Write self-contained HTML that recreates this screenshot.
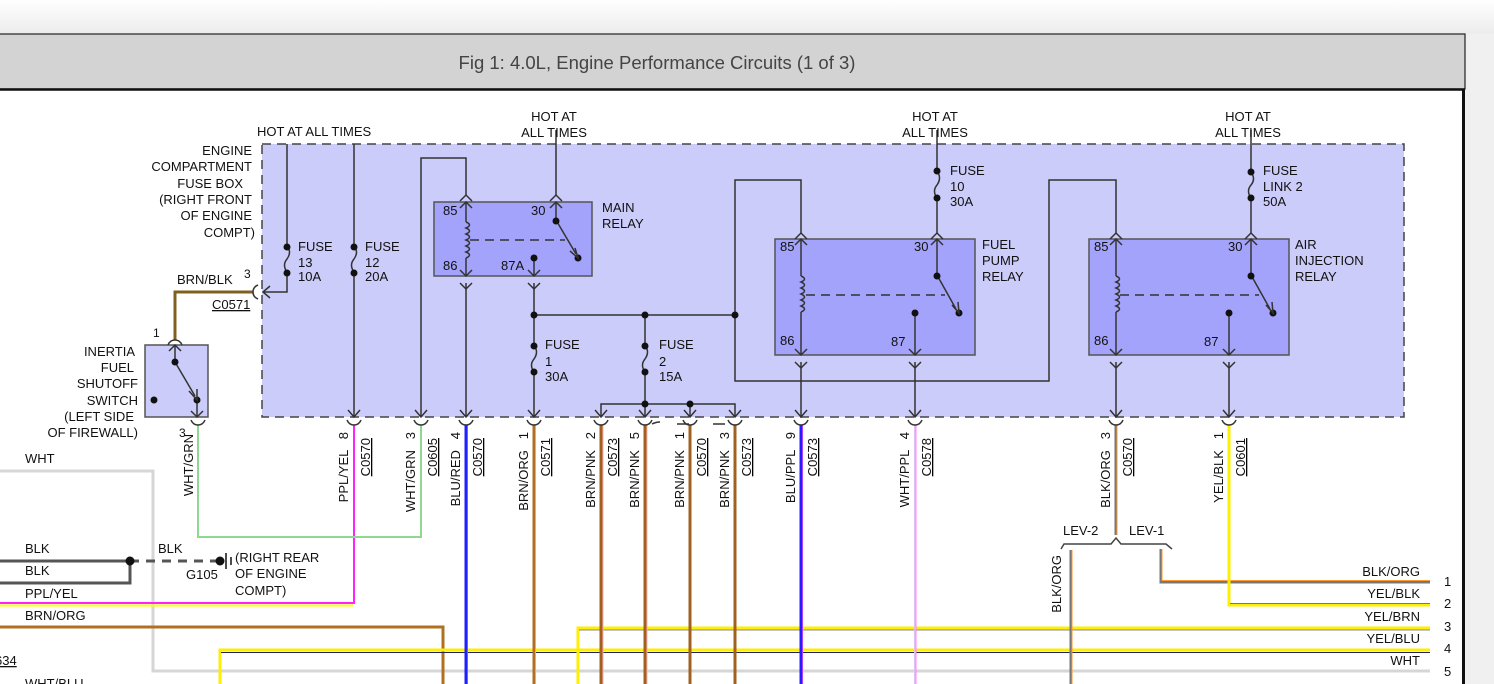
<!DOCTYPE html>
<html><head><meta charset="utf-8"><style>
html,body{margin:0;padding:0;width:1494px;height:684px;overflow:hidden;background:#f2f2f2}
svg{display:block}
text{font-family:"Liberation Sans",sans-serif;font-size:13px;fill:#111;white-space:pre}
</style></head><body>
<svg width="1494" height="684" viewBox="0 0 1494 684" xmlns="http://www.w3.org/2000/svg">
<defs>
<linearGradient id="tg" x1="0" y1="0" x2="0" y2="1"><stop offset="0" stop-color="#ffffff"/><stop offset="1" stop-color="#ececec"/></linearGradient>
</defs>
<rect x="0" y="0" width="1494" height="34" fill="url(#tg)"/>
<rect x="1466" y="34" width="28" height="650" fill="#f0f0f0"/>
<rect x="-2" y="34" width="1467" height="55" fill="#d3d3d3" stroke="#222" stroke-width="1.2"/>
<line x1="0" y1="89.5" x2="1465" y2="89.5" stroke="#111" stroke-width="2.5"/>
<text x="657" y="69" text-anchor="middle" style="font-size:18.5px;fill:#444">Fig 1: 4.0L, Engine Performance Circuits (1 of 3)</text>
<rect x="0" y="91" width="1462" height="593" fill="#fff"/>
<line x1="1463.5" y1="89" x2="1463.5" y2="684" stroke="#111" stroke-width="3"/>

<rect x="262" y="144" width="1142" height="273" fill="#ccccfa" stroke="#444" stroke-width="1.5" stroke-dasharray="9,6"/>
<rect x="434" y="202" width="158" height="74" fill="#a3a3fc" stroke="#555" stroke-width="1.5"/>
<rect x="775" y="239" width="200" height="116" fill="#a3a3fc" stroke="#555" stroke-width="1.5"/>
<rect x="1089" y="239" width="200" height="116" fill="#a3a3fc" stroke="#555" stroke-width="1.5"/>
<rect x="145" y="345" width="63" height="72" fill="#ccccfa" stroke="#555" stroke-width="1.5"/>

<g fill="none">
<polyline points="0,471 153,471 153,671 1430,671" stroke="#d6d6d6" stroke-width="3"/>
<polyline points="0,561 130,561" stroke="#555" stroke-width="3"/>
<polyline points="0,583 130,583 130,561" stroke="#555" stroke-width="3"/>
<line x1="130" y1="561" x2="220" y2="561" stroke="#555" stroke-width="3" stroke-dasharray="9,7"/>
<polyline points="0,603 354,603 354,425" stroke="#ff22ff" stroke-width="2"/>
<line x1="0" y1="605.5" x2="353" y2="605.5" stroke="#ffff00" stroke-width="2"/>
<polyline points="0,627 443,627 443,684" stroke="#b07020" stroke-width="3"/>
<polyline points="198,425 198,537 421,537 421,425" stroke="#90d890" stroke-width="2"/>
<polyline points="220,684 220,650 1430,650" stroke="#ffee00" stroke-width="3"/>
<line x1="221" y1="652.5" x2="1430" y2="652.5" stroke="#222266" stroke-width="1"/>
<polyline points="578,684 578,628 1430,628" stroke="#ffee00" stroke-width="3"/>
<line x1="579" y1="630" x2="1430" y2="630" stroke="#888" stroke-width="1"/>
<line x1="466" y1="425" x2="466" y2="684" stroke="#2020ff" stroke-width="3"/>
<line x1="467.5" y1="425" x2="467.5" y2="684" stroke="#ff4040" stroke-width="1"/>
<line x1="534" y1="425" x2="534" y2="684" stroke="#b07020" stroke-width="3"/>
<line x1="535.5" y1="425" x2="535.5" y2="684" stroke="#ffaa40" stroke-width="1"/>
<g stroke="#a06020" stroke-width="3"><line x1="601" y1="425" x2="601" y2="684"/><line x1="645" y1="425" x2="645" y2="684"/><line x1="690" y1="425" x2="690" y2="684"/><line x1="735" y1="425" x2="735" y2="684"/></g>
<g stroke="#ffb0b0" stroke-width="1"><line x1="603" y1="425" x2="603" y2="684"/><line x1="647" y1="425" x2="647" y2="684"/></g>
<line x1="801" y1="425" x2="801" y2="684" stroke="#2020ff" stroke-width="3"/>
<line x1="802.5" y1="425" x2="802.5" y2="684" stroke="#b040ff" stroke-width="1"/>
<line x1="915" y1="425" x2="915" y2="684" stroke="#e0c0f0" stroke-width="2"/>
<line x1="916" y1="425" x2="916" y2="684" stroke="#ff80ff" stroke-width="1"/>
<line x1="1116" y1="425" x2="1116" y2="535" stroke="#777" stroke-width="3"/>
<line x1="1117" y1="425" x2="1117" y2="535" stroke="#ff9a30" stroke-width="1"/>
<line x1="1071" y1="550" x2="1071" y2="684" stroke="#777" stroke-width="3"/>
<line x1="1072" y1="550" x2="1072" y2="684" stroke="#ff9a30" stroke-width="1"/>
<polyline points="1161,549 1161,582 1430,582" stroke="#777" stroke-width="3"/>
<polyline points="1162,549 1162,580.5 1430,580.5" stroke="#ff9a30" stroke-width="1"/>
<polyline points="1229,425 1229,605 1430,605" stroke="#ffee00" stroke-width="3"/>
<line x1="1230" y1="603.5" x2="1430" y2="603.5" stroke="#777" stroke-width="1"/>
<polyline points="175,340 175,292 253,292" stroke="#806020" stroke-width="3"/>
<polyline points="1061,549 1064,544 1111,544 1116,538 1121,544 1166,544 1172,549" stroke="#444" stroke-width="1.5"/>
</g>
<circle cx="130" cy="561" r="4.5" fill="#111"/><circle cx="220" cy="561" r="4.5" fill="#111"/>
<line x1="226" y1="553" x2="226" y2="569" stroke="#111" stroke-width="1.5"/>
<line x1="231" y1="557" x2="231" y2="565" stroke="#111" stroke-width="1.5"/>

<g fill="none" stroke="#333" stroke-width="1.5">
<polyline points="287,144 287,292 264,292"/><polyline points="270,286 263,292 270,298"/>
<line x1="354" y1="144" x2="354" y2="417"/>
<polyline points="421,417 421,158 466,158 466,195"/>
<line x1="466" y1="202" x2="466" y2="276"/><line x1="466" y1="283" x2="466" y2="417"/>
<line x1="556" y1="130" x2="556" y2="195"/><line x1="556" y1="202" x2="556" y2="220"/>
<line x1="556" y1="220" x2="576" y2="254"/>
<line x1="534" y1="258" x2="534" y2="276"/><line x1="534" y1="283" x2="534" y2="417"/>
<line x1="534" y1="315" x2="735" y2="315"/>
<line x1="645" y1="315" x2="645" y2="404"/>
<polyline points="601,417 601,404 735,404 735,417"/>
<line x1="645" y1="404" x2="645" y2="417"/><line x1="690" y1="404" x2="690" y2="417"/>
<polyline points="801,233 801,180 735,180 735,381 1049,381 1049,180 1116,180 1116,233"/>
<line x1="801" y1="239" x2="801" y2="355"/><line x1="801" y1="362" x2="801" y2="417"/>
<line x1="937" y1="130" x2="937" y2="233"/><line x1="937" y1="239" x2="937" y2="275"/>
<line x1="937" y1="275" x2="956" y2="309"/>
<line x1="915" y1="313" x2="915" y2="355"/><line x1="915" y1="362" x2="915" y2="417"/>
<line x1="1116" y1="239" x2="1116" y2="355"/><line x1="1116" y1="362" x2="1116" y2="417"/>
<line x1="1251" y1="130" x2="1251" y2="233"/><line x1="1251" y1="239" x2="1251" y2="275"/>
<line x1="1251" y1="275" x2="1270" y2="309"/>
<line x1="1229" y1="313" x2="1229" y2="355"/><line x1="1229" y1="362" x2="1229" y2="417"/>
<line x1="175" y1="345" x2="175" y2="362"/><line x1="175" y1="362" x2="195" y2="396"/>
<line x1="197" y1="400" x2="197" y2="417"/>
</g>
<g fill="none" stroke="#333" stroke-width="1.5">
<rect x="282" y="248" width="10" height="22" fill="#ccccfa" stroke="none"/><path d="M287,246 q5,6 0,13 q-5,6 0,13"/>
<rect x="349" y="248" width="10" height="22" fill="#ccccfa" stroke="none"/><path d="M354,246 q5,6 0,13 q-5,6 0,13"/>
<rect x="529" y="347" width="10" height="23" fill="#ccccfa" stroke="none"/><path d="M534,345 q5,7 0,14 q-5,6 0,13"/>
<rect x="640" y="347" width="10" height="23" fill="#ccccfa" stroke="none"/><path d="M645,345 q5,7 0,14 q-5,6 0,13"/>
<rect x="932" y="173" width="10" height="23" fill="#ccccfa" stroke="none"/><path d="M937,171 q5,7 0,14 q-5,6 0,13"/>
<rect x="1246" y="174" width="10" height="22" fill="#ccccfa" stroke="none"/><path d="M1251,172 q5,7 0,13 q-5,6 0,13"/>
<rect x="463" y="222" width="8" height="36" fill="#a3a3fc" stroke="none"/><path d="M466,222 q7,3 0,6 q7,3 0,6 q7,3 0,6 q7,3 0,6 q7,3 0,6 q7,3 0,6"/>
<rect x="798" y="276" width="8" height="36" fill="#a3a3fc" stroke="none"/><path d="M801,276 q7,3 0,6 q7,3 0,6 q7,3 0,6 q7,3 0,6 q7,3 0,6 q7,3 0,6"/>
<rect x="1113" y="276" width="8" height="36" fill="#a3a3fc" stroke="none"/><path d="M1116,276 q7,3 0,6 q7,3 0,6 q7,3 0,6 q7,3 0,6 q7,3 0,6 q7,3 0,6"/>
</g>
<g stroke="#333" stroke-width="1.5" stroke-dasharray="9,6">
<line x1="470" y1="240" x2="565" y2="240"/><line x1="806" y1="295" x2="945" y2="295"/><line x1="1120" y1="295" x2="1259" y2="295"/>
</g>
<g fill="#111">
<circle cx="287" cy="247" r="3.5"/><circle cx="287" cy="273" r="3.5"/>
<circle cx="354" cy="247" r="3.5"/><circle cx="354" cy="273" r="3.5"/>
<circle cx="556" cy="221" r="3.5"/><circle cx="578" cy="258" r="3.5"/><circle cx="534" cy="258" r="3.5"/>
<circle cx="534" cy="315" r="3.5"/><circle cx="645" cy="315" r="3.5"/><circle cx="735" cy="315" r="3.5"/>
<circle cx="534" cy="346" r="3.5"/><circle cx="534" cy="372" r="3.5"/>
<circle cx="645" cy="346" r="3.5"/><circle cx="645" cy="372" r="3.5"/>
<circle cx="645" cy="404" r="3.5"/><circle cx="690" cy="404" r="3.5"/>
<circle cx="937" cy="171" r="3.5"/><circle cx="937" cy="198" r="3.5"/>
<circle cx="937" cy="276" r="3.5"/><circle cx="959" cy="313" r="3.5"/><circle cx="915" cy="313" r="3.5"/>
<circle cx="1251" cy="172" r="3.5"/><circle cx="1251" cy="198" r="3.5"/>
<circle cx="1251" cy="276" r="3.5"/><circle cx="1273" cy="313" r="3.5"/><circle cx="1229" cy="313" r="3.5"/>
<circle cx="175" cy="362" r="3.5"/><circle cx="197" cy="400" r="3.5"/><circle cx="154" cy="400" r="3.5"/>
</g>
<g fill="none" stroke="#333" stroke-width="1.5">
<path d="M348,410 354,417 360,410 M415,410 421,417 427,410 M460,410 466,417 472,410 M528,410 534,417 540,410 M595,410 601,417 607,410 M639,410 645,417 651,410 M684,410 690,417 696,410 M729,410 735,417 741,410 M795,410 801,417 807,410 M909,410 915,417 921,410 M1110,410 1116,417 1122,410 M1223,410 1229,417 1235,410"/>
<path d="M460,270 466,276 472,270 M528,270 534,276 540,270 M795,349 801,355 807,349 M909,349 915,355 921,349 M1110,349 1116,355 1122,349 M1223,349 1229,355 1235,349 M191,411 197,417 203,411 M570,251 578,258 575,248"/>
<path d="M952,305 959,313 958,302 M1266,305 1273,313 1272,302 M189,391 197,400 197,389"/>
<path d="M460,208 466,202 472,208 M550,208 556,202 562,208 M795,245 801,239 807,245 M931,245 937,239 943,245 M1110,245 1116,239 1122,245 M1245,245 1251,239 1257,245 M169,351 175,345 181,351"/>
<path d="M460,201 466,195 472,201 M550,201 556,195 562,201 M795,239 801,233 807,239 M931,239 937,233 943,239 M1110,239 1116,233 1122,239 M1245,239 1251,233 1257,239"/>
<path d="M460,283 466,289 472,283 M528,283 534,289 540,283 M795,362 801,368 807,362 M909,362 915,368 921,362 M1110,362 1116,368 1122,362 M1223,362 1229,368 1235,362"/>
<path d="M347,420 q2,5 7,5 q5,0 7,-5 M414,420 q2,5 7,5 q5,0 7,-5 M459,420 q2,5 7,5 q5,0 7,-5 M527,420 q2,5 7,5 q5,0 7,-5 M594,420 q2,5 7,5 q5,0 7,-5 M638,420 q2,5 7,5 q5,0 7,-5 M683,420 q2,5 7,5 q5,0 7,-5 M728,420 q2,5 7,5 q5,0 7,-5 M794,420 q2,5 7,5 q5,0 7,-5 M908,420 q2,5 7,5 q5,0 7,-5 M1109,420 q2,5 7,5 q5,0 7,-5 M1222,420 q2,5 7,5 q5,0 7,-5 M191,420 q2,5 7,5 q5,0 7,-5"/>
<path d="M168,345 q2,-5 7,-5 q5,0 7,5 M258,285 q-5,2 -5,7 q0,5 5,7"/>
<path d="M652,424 q4,-2 8,-2 M677,424 h12 M713,424 h12"/>
</g>

<text x="257" y="136">HOT AT ALL TIMES</text>
<g text-anchor="middle"><text x="554" y="121">HOT AT</text><text x="554" y="137">ALL TIMES</text>
<text x="935" y="121">HOT AT</text><text x="935" y="137">ALL TIMES</text>
<text x="1248" y="121">HOT AT</text><text x="1248" y="137">ALL TIMES</text></g>
<g text-anchor="end"><text x="252" y="155">ENGINE</text><text x="252" y="171">COMPARTMENT</text><text x="243" y="188">FUSE BOX</text><text x="252" y="204">(RIGHT FRONT</text><text x="252" y="220">OF ENGINE</text><text x="255" y="237">COMPT)</text>
<text x="135" y="356">INERTIA</text><text x="134" y="372">FUEL</text><text x="138" y="388">SHUTOFF</text><text x="138" y="405">SWITCH</text><text x="134" y="421">(LEFT SIDE</text><text x="138" y="437">OF FIREWALL)</text></g>
<text x="177" y="284">BRN/BLK</text><text x="244" y="278" style="font-size:12px">3</text>
<text x="212" y="309" text-decoration="underline">C0571</text>
<text x="153" y="337" style="font-size:12px">1</text><text x="179" y="437" style="font-size:12px">3</text>
<text x="298" y="251">FUSE</text><text x="298" y="267">13</text><text x="298" y="281">10A</text>
<text x="365" y="251">FUSE</text><text x="365" y="267">12</text><text x="365" y="281">20A</text>
<text x="545" y="349">FUSE</text><text x="545" y="366">1</text><text x="545" y="381">30A</text>
<text x="659" y="349">FUSE</text><text x="659" y="366">2</text><text x="659" y="381">15A</text>
<text x="950" y="175">FUSE</text><text x="950" y="191">10</text><text x="950" y="206">30A</text>
<text x="1263" y="175">FUSE</text><text x="1263" y="191">LINK 2</text><text x="1263" y="206">50A</text>
<text x="602" y="212">MAIN</text><text x="602" y="228">RELAY</text>
<text x="982" y="249">FUEL</text><text x="982" y="265">PUMP</text><text x="982" y="281">RELAY</text>
<text x="1295" y="249">AIR</text><text x="1295" y="265">INJECTION</text><text x="1295" y="281">RELAY</text>
<g style="font-size:12px"><text x="443" y="215">85</text><text x="531" y="215">30</text><text x="443" y="270">86</text><text x="501" y="270">87A</text>
<text x="780" y="251">85</text><text x="914" y="251">30</text><text x="780" y="345">86</text><text x="891" y="346">87</text>
<text x="1094" y="251">85</text><text x="1228" y="251">30</text><text x="1094" y="345">86</text><text x="1204" y="346">87</text></g>
<g text-anchor="end">
<text transform="translate(193,434) rotate(-90)">WHT/GRN</text>
<text transform="translate(348,432) rotate(-90)">PPL/YEL   8</text>
<text transform="translate(415,432) rotate(-90)">WHT/GRN   3</text>
<text transform="translate(460,432) rotate(-90)">BLU/RED   4</text>
<text transform="translate(528,432) rotate(-90)">BRN/ORG   1</text>
<text transform="translate(595,432) rotate(-90)">BRN/PNK   2</text>
<text transform="translate(639,432) rotate(-90)">BRN/PNK   5</text>
<text transform="translate(684,432) rotate(-90)">BRN/PNK   1</text>
<text transform="translate(729,432) rotate(-90)">BRN/PNK   3</text>
<text transform="translate(795,432) rotate(-90)">BLU/PPL   9</text>
<text transform="translate(909,432) rotate(-90)">WHT/PPL   4</text>
<text transform="translate(1110,432) rotate(-90)">BLK/ORG   3</text>
<text transform="translate(1223,432) rotate(-90)">YEL/BLK   1</text>
<text transform="translate(1061,555) rotate(-90)">BLK/ORG</text>
<g text-decoration="underline">
<text transform="translate(370,438) rotate(-90)">C0570</text>
<text transform="translate(437,438) rotate(-90)">C0605</text>
<text transform="translate(482,438) rotate(-90)">C0570</text>
<text transform="translate(550,438) rotate(-90)">C0571</text>
<text transform="translate(617,438) rotate(-90)">C0573</text>
<text transform="translate(706,438) rotate(-90)">C0570</text>
<text transform="translate(751,438) rotate(-90)">C0573</text>
<text transform="translate(817,438) rotate(-90)">C0573</text>
<text transform="translate(931,438) rotate(-90)">C0578</text>
<text transform="translate(1132,438) rotate(-90)">C0570</text>
<text transform="translate(1245,438) rotate(-90)">C0601</text>
</g></g>
<text x="25" y="463">WHT</text><text x="25" y="553">BLK</text><text x="25" y="575">BLK</text><text x="25" y="598">PPL/YEL</text><text x="25" y="620">BRN/ORG</text>
<text x="-5" y="665" text-decoration="underline">634</text><text x="25" y="688">WHT/BLU</text>
<text x="158" y="553">BLK</text><text x="186" y="579">G105</text>
<text x="235" y="562">(RIGHT REAR</text><text x="235" y="578">OF ENGINE</text><text x="235" y="595">COMPT)</text>
<text x="1063" y="535">LEV-2</text><text x="1129" y="535">LEV-1</text>
<g text-anchor="end"><text x="1420" y="576">BLK/ORG</text><text x="1420" y="598">YEL/BLK</text><text x="1420" y="621">YEL/BRN</text><text x="1420" y="643">YEL/BLU</text><text x="1420" y="665">WHT</text></g>
<text x="1444" y="586">1</text><text x="1444" y="608">2</text><text x="1444" y="631">3</text><text x="1444" y="653">4</text><text x="1444" y="676">5</text>
</svg>
</body></html>
